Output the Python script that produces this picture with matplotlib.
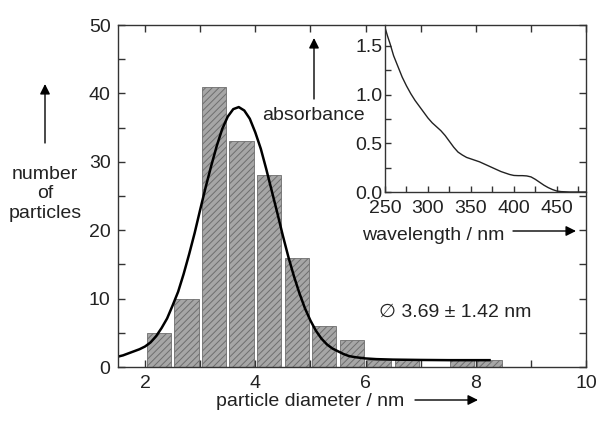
import matplotlib
matplotlib.use("Agg")
import matplotlib.pyplot as plt
from matplotlib.ticker import MultipleLocator

plt.rcParams['font.family'] = ['Liberation Sans', 'DejaVu Sans']
plt.rcParams['font.size'] = 14
plt.rcParams['hatch.linewidth'] = 0.7

# histogram of particle diameters
bin_centers = [2.25, 2.75, 3.25, 3.75, 4.25, 4.75, 5.25, 5.75, 6.25, 6.75, 7.25, 7.75, 8.25]
counts = [5, 10, 41, 33, 28, 16, 6, 4, 1, 1, 0, 1, 1]

# fitted curve
fit_x = [1.5, 1.6, 1.7, 1.8, 1.9, 2.0, 2.1, 2.2, 2.3, 2.4, 2.5, 2.6, 2.7, 2.8, 2.9,
         3.0, 3.1, 3.2, 3.3, 3.4, 3.5, 3.6, 3.7, 3.8, 3.9, 4.0, 4.1, 4.2, 4.3, 4.4,
         4.5, 4.6, 4.7, 4.8, 4.9, 5.0, 5.1, 5.2, 5.3, 5.4, 5.5, 5.6, 5.7, 5.8, 5.9,
         6.0, 6.2, 6.5, 7.0, 7.5, 8.0, 8.25]
fit_y = [1.5, 1.7, 2.0, 2.3, 2.6, 3.0, 3.6, 4.5, 5.7, 7.1, 9.0, 11.0, 13.6, 16.5, 19.6,
         23.0, 26.3, 29.4, 32.3, 34.8, 36.6, 37.7, 38.0, 37.5, 36.3, 34.3, 31.9, 28.9, 25.7, 22.5,
         19.2, 16.1, 13.3, 10.8, 8.6, 6.8, 5.3, 4.15, 3.3, 2.7, 2.3, 1.9, 1.6, 1.45, 1.35,
         1.25, 1.15, 1.08, 1.03, 1.0, 1.0, 1.0]

# inset absorbance spectrum
wl = [250, 253, 256, 260, 265, 270, 275, 280, 285, 290, 295, 300, 305, 310, 315,
      320, 325, 330, 335, 340, 345, 350, 355, 360, 365, 370, 375, 380, 385, 390,
      395, 400, 405, 410, 415, 420, 425, 430, 435, 440, 445, 450, 455, 465, 484]
absorb = [1.69, 1.60, 1.52, 1.40, 1.29, 1.18, 1.09, 1.01, 0.94, 0.88, 0.82, 0.76, 0.71, 0.67, 0.63,
          0.58, 0.52, 0.46, 0.41, 0.38, 0.355, 0.34, 0.325, 0.31, 0.29, 0.27, 0.25, 0.23, 0.21, 0.195,
          0.18, 0.17, 0.168, 0.168, 0.165, 0.155, 0.13, 0.10, 0.07, 0.045, 0.025, 0.01, 0.004, 0.0, 0.0]

W, H = 597, 422
fig = plt.figure(figsize=(W / 100, H / 100), dpi=100)

def fx(px):
    return px / W

def fy(py):
    return 1 - py / H

spine_col = '#333333'
text_col = '#222222'

ax = fig.add_axes([fx(117.5), fy(367), fx(586) - fx(117.5), fy(25) - fy(367)])
ax.bar(bin_centers, counts, width=0.44, color='#a6a6a6', edgecolor='#6e6e6e',
       linewidth=0.6, hatch='/////')
ax.plot(fit_x, fit_y, color='black', lw=1.8)
ax.set_xlim(1.5, 10)
ax.set_ylim(0, 50)
ax.xaxis.set_major_locator(MultipleLocator(2))
ax.xaxis.set_minor_locator(MultipleLocator(1))
ax.yaxis.set_major_locator(MultipleLocator(10))
ax.yaxis.set_minor_locator(MultipleLocator(5))
ax.tick_params(which='both', direction='in', top=True, right=True, colors=spine_col,
               labelcolor=text_col, labelsize=14, length=5, width=1)
ax.tick_params(axis='x', which='both', pad=6)
ax.tick_params(axis='y', which='both', pad=5)
for s in ax.spines.values():
    s.set_color(spine_col)
    s.set_linewidth(1)

# inset
ins = fig.add_axes([fx(385), fy(192), fx(586) - fx(385), fy(25) - fy(192)])
ins.patch.set_alpha(0)
ins.plot(wl, absorb, color='#222222', lw=1.0)
ins.set_xlim(250, 484)
ins.set_ylim(0, 1.715)
ins.xaxis.set_major_locator(MultipleLocator(50))
ins.xaxis.set_minor_locator(MultipleLocator(25))
ins.yaxis.set_major_locator(MultipleLocator(0.5))
ins.yaxis.set_minor_locator(MultipleLocator(0.25))
ins.spines['top'].set_visible(False)
ins.spines['right'].set_visible(False)
for s in ['left', 'bottom']:
    ins.spines[s].set_color(spine_col)
    ins.spines[s].set_linewidth(1)
ins.tick_params(which='both', direction='in', colors=spine_col, labelcolor=text_col,
                labelsize=14, length=4, width=1, pad=2)
ins.tick_params(axis='x', which='both', pad=6)

# labels and arrows
arrow = dict(arrowstyle='-|>', color='black', lw=1.0, mutation_scale=15,
             shrinkA=0, shrinkB=0)
fig.text(fx(310), fy(401), 'particle diameter / nm', ha='center', va='center',
         color=text_col, fontsize=14)
ax.annotate('', xy=(fx(478), fy(400)), xytext=(fx(415), fy(400)),
            xycoords='figure fraction', textcoords='figure fraction', arrowprops=arrow)

fig.text(fx(45), fy(194), 'number\nof\nparticles', ha='center', va='center',
         color=text_col, fontsize=14, linespacing=1.2)
ax.annotate('', xy=(fx(45), fy(84)), xytext=(fx(45), fy(143)),
            xycoords='figure fraction', textcoords='figure fraction', arrowprops=arrow)

fig.text(fx(313), fy(115), 'absorbance', ha='center', va='center',
         color=text_col, fontsize=14)
ax.annotate('', xy=(fx(314), fy(38)), xytext=(fx(314), fy(99)),
            xycoords='figure fraction', textcoords='figure fraction', arrowprops=arrow)

fig.text(fx(433), fy(236), 'wavelength / nm', ha='center', va='center',
         color=text_col, fontsize=14)
ax.annotate('', xy=(fx(576), fy(231)), xytext=(fx(513), fy(231)),
            xycoords='figure fraction', textcoords='figure fraction', arrowprops=arrow)

fig.text(fx(455), fy(312), '\u2205 3.69 \u00b1 1.42 nm', ha='center', va='center',
         color=text_col, fontsize=14)

fig.savefig('out.png', dpi=100)
